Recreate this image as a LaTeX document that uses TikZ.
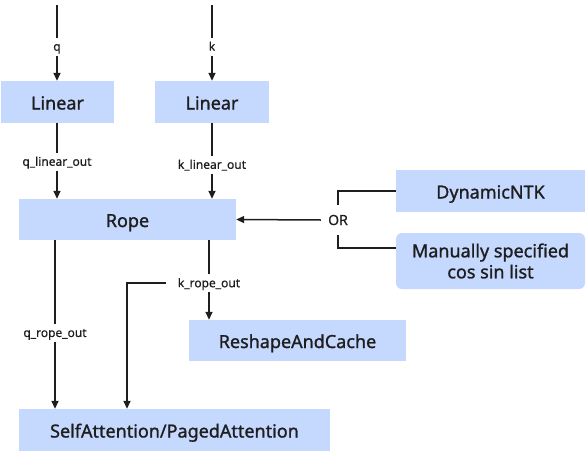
\documentclass[tikz,border=0pt]{standalone}
\usepackage{fontspec}
\setmainfont{Noto Sans}
\newfontfamily\boxfont[FakeBold=1.2]{Noto Sans}
\newfontfamily\lblfont[FakeBold=0.5]{Noto Sans}
\usetikzlibrary{arrows.meta}
\definecolor{boxblue}{RGB}{197,216,254}
\definecolor{ink}{RGB}{30,30,30}
\tikzset{
  box/.style={fill=boxblue, draw=none, inner sep=0pt, text=ink, font=\boxfont\fontsize{18}{21}\selectfont},
  onebox/.style={box, text height=15pt, text depth=0pt},
  lbl/.style={fill=white, inner xsep=2pt, inner ysep=0pt, minimum height=18pt, text height=10pt, text depth=2pt, text=ink, font=\lblfont\fontsize{12}{14}\selectfont},
  conn/.style={draw=ink, line width=1.5pt},
  arr/.style={conn, -{Triangle[length=8pt,width=7pt]}}
}
\begin{document}
\begin{tikzpicture}[x=1pt,y=-1pt]
\useasboundingbox (0,0) rectangle (587,453);
\node[onebox, minimum width=113pt, minimum height=42pt] (lin1) at (57.5,102) {Linear};
\node[onebox, minimum width=114pt, minimum height=42pt] (lin2) at (212,102) {Linear};
\node[onebox, minimum width=217pt, minimum height=41pt] (rope) at (127.5,219.5) {Rope};
\node[onebox, minimum width=189pt, minimum height=42pt] (dyn) at (490.5,191) {DynamicNTK};
\node[box, minimum width=189pt, minimum height=56pt, rounded corners=6pt, align=center] (man) at (490.5,261) {Manually specified\\cos sin list};
\node[onebox, minimum width=217pt, minimum height=41pt] (rac) at (297.5,340.5) {ReshapeAndCache};
\node[onebox, minimum width=311pt, minimum height=42pt] (sa) at (174.5,430) {SelfAttention/PagedAttention};
\node[text=ink, inner sep=0pt, minimum width=34pt, minimum height=30pt, text height=10pt, text depth=0pt, font=\lblfont\fontsize{14}{16}\selectfont] (or) at (338,220) {OR};
\coordinate (qin) at (57,5);
\coordinate (kin) at (212,5);
\coordinate (qx) at (57,0);
\coordinate (kx) at (212,0);
\coordinate (qrx) at (55,0);
\coordinate (krx) at (209,0);
\coordinate (kbx) at (127,0);
\draw[arr] (qin) -- node[lbl, pos=0.55] {q} (lin1.north -| qin);
\draw[arr] (kin) -- node[lbl, pos=0.55] {k} (lin2.north -| kin);
\draw[arr] (lin1.south -| qx) -- node[lbl, pos=0.51] {q\_linear\_out} (rope.north -| qx);
\draw[arr] (lin2.south -| kx) -- node[lbl, pos=0.55] {k\_linear\_out} (rope.north -| kx);
\draw[arr] (rope.south -| qrx) -- node[lbl, pos=0.55] {q\_rope\_out} (sa.north -| qrx);
\draw[arr] (rope.south -| krx) -- node[lbl, pos=0.54, inner xsep=5pt] (krl) {k\_rope\_out} (rac.north -| krx);
\draw[arr] ([xshift=-6pt]krl.west) -| (sa.north -| kbx);
\draw[arr] (or.west) -- (rope.east);
\draw[conn] (dyn.west) -| (or.north);
\draw[conn] ([yshift=13pt]man.west) -| (or.south);
\end{tikzpicture}
\end{document}
